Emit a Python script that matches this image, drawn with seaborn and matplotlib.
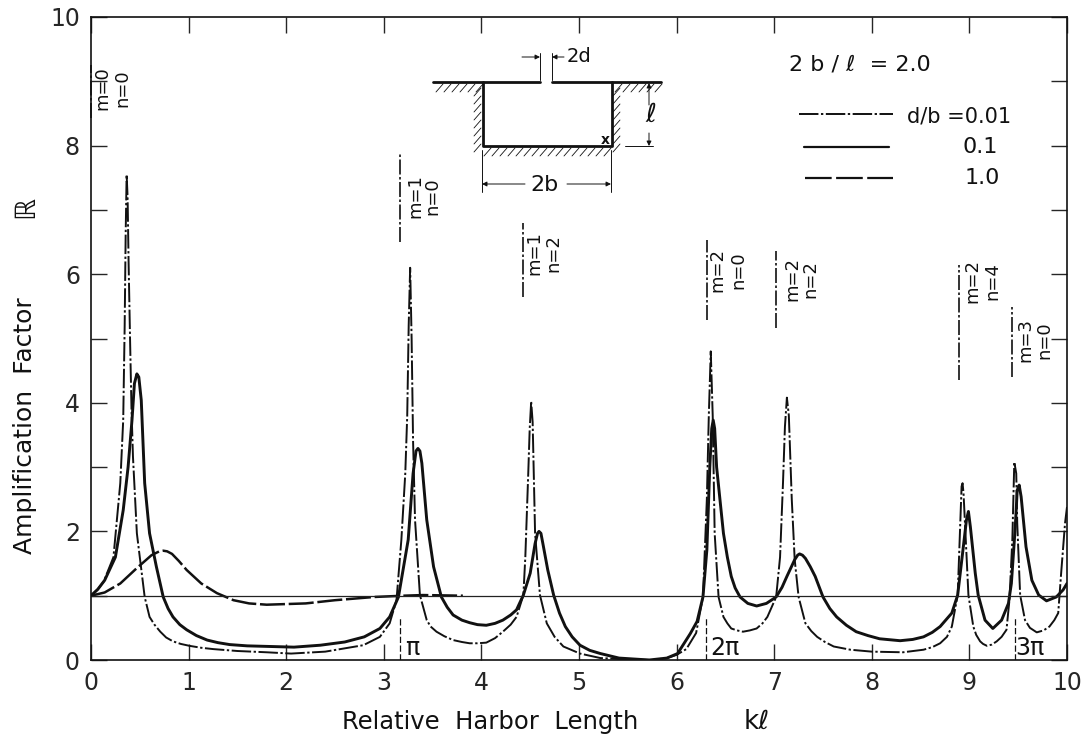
import matplotlib
matplotlib.use("Agg")
import matplotlib.pyplot as plt
from matplotlib.lines import Line2D
from matplotlib.patches import FancyArrowPatch
from matplotlib.transforms import Affine2D
import seaborn as sns

W, H = 1088, 742

x_001 = [0, .07, .13, .23, .3, .33, .345, .355, .365, .375, .385, .4, .415, .43, .47, .55, .6, .65, .71, .77, .84, .92,
         1.01, 1.13, 1.25, 1.5, 1.8,
         2.05, 2.4, 2.79, 2.96, 3.06, 3.13, 3.18, 3.22, 3.24, 3.255, 3.27, 3.285, 3.3, 3.32, 3.37, 3.44, 3.48, 3.54,
         3.62, 3.71, 3.8, 3.88, 3.96, 4.05, 4.14, 4.22, 4.3, 4.36, 4.43, 4.45, 4.48, 4.495, 4.51, 4.525, 4.535, 4.55,
         4.6, 4.67, 4.75, 4.84, 5.01, 5.22, 5.5,
         5.75, 5.9, 6.0, 6.1, 6.2, 6.27, 6.31, 6.33, 6.35, 6.37, 6.39, 6.43, 6.48, 6.52, 6.56, 6.62, 6.68, 6.75, 6.82,
         6.88, 6.93, 7.02, 7.06,
         7.09, 7.11, 7.13, 7.15, 7.18, 7.21, 7.25, 7.32, 7.38, 7.44, 7.52, 7.61, 7.78, 8.0, 8.32, 8.53, 8.62, 8.7,
         8.77, 8.82, 8.88, 8.9, 8.92,
         8.93, 8.94, 8.97, 8.99, 9.04, 9.07, 9.11, 9.14, 9.18, 9.23, 9.28, 9.33, 9.38, 9.41, 9.44, 9.46, 9.48, 9.49,
         9.52, 9.57, 9.62, 9.69, 9.76, 9.82, 9.87,
         9.91, 9.94, 9.98, 10]
y_001 = [1, 1.1, 1.22, 1.6, 2.75, 3.73, 5.2, 6.6, 7.55, 7.2, 6.2, 5.0, 3.9, 3.16, 1.97, .98, .67, .55, .44, .35, .29,
         .25, .22, .19, .17, .14, .12,
         .1, .13, .23, .36, .57, .93, 1.87, 2.9, 3.8, 5.2, 6.1, 5.0, 3.4, 2.18, 1.01, .62, .52, .44,
         .37, .31, .28, .26, .26, .27, .34, .44, .55, .67, 1.01, 1.6, 2.9, 3.6, 4.02, 3.7, 3.0, 1.97,
         1.01, .57, .36, .21, .1, .03, .01,
         0, .03, .08, .17, .42, .98, 2.5, 3.8, 4.8, 3.8, 1.97, .98, .67, .57, .49, .46, .44, .46, .49,
         .57, .67, .98, 1.6,
         2.75, 3.63, 4.08, 3.8, 2.5, 1.56, .98, .57, .45, .36, .28, .21, .16, .13, .12, .16, .2, .26,
         .36, .52, 1.01, 1.87, 2.7,
         2.75, 2.59, 1.66, 1.01, .52, .39, .29, .25, .22, .24, .29, .36, .47, .93, 1.87, 3.08, 2.9, 2.13,
         1.01, .62, .5, .43, .46, .52, .62,
         .73, 1.35, 2.13, 2.38]

x_01 = [0, .07, .14, .25, .33, .38, .42, .445, .47, .49, .515, .55, .6, .67, .74, .79, .84, .91, .98, 1.08, 1.19, 1.3,
        1.42, 1.6, 1.83, 2.08, 2.35, 2.6, 2.8, 2.96, 3.06, 3.15, 3.25, 3.3, 3.33, 3.35, 3.37, 3.39, 3.44, 3.51, 3.59,
        3.65, 3.71, 3.8, 3.88, 3.96, 4.05, 4.14, 4.22, 4.3,
        4.36, 4.43, 4.5, 4.55, 4.575, 4.59, 4.61, 4.63, 4.68, 4.74, 4.8, 4.86, 4.93, 5.01, 5.11, 5.22, 5.41, 5.72, 5.9,
        6.01, 6.14, 6.21, 6.27,
        6.31, 6.34, 6.36, 6.375, 6.39, 6.41, 6.48, 6.52, 6.56, 6.6, 6.65, 6.73, 6.82, 6.92, 7.02, 7.08, 7.13, 7.21,
        7.24, 7.26, 7.29, 7.32, 7.37, 7.42, 7.5, 7.57, 7.64, 7.74, 7.84, 7.96, 8.08, 8.29, 8.42, 8.53, 8.62, 8.7,
        8.82, 8.88, 8.93, 8.97, 8.99, 9.01, 9.06, 9.09, 9.16, 9.24,
        9.33, 9.4, 9.43, 9.47, 9.49, 9.51, 9.53, 9.58, 9.64, 9.71, 9.79, 9.89, 9.96, 10]
y_01 = [1, 1.1, 1.24, 1.6, 2.33, 3.0, 3.73, 4.3, 4.45, 4.4, 4.04, 2.75, 1.97, 1.45, .98, .8, .67, .55, .47, .38, .31,
        .27, .24, .22, .21, .2, .23, .28, .36, .49, .67, .98, 1.87, 2.9, 3.25, 3.29, 3.25, 3.06, 2.18, 1.45, .98,
        .82, .7, .62, .58, .55, .54, .57, .62, .7,
        .78, 1.01, 1.35, 1.81, 1.97, 2.0, 1.97, 1.81, 1.4, 1.01, .73, .52, .36, .23, .15, .1, .03, 0, .03,
        .1, .41, .6, .98,
        1.71, 3.0, 3.6, 3.73, 3.6, 3.0, 1.97, 1.6, 1.3, 1.12, .98, .88, .84, .88, .98, 1.13, 1.3, 1.56,
        1.63, 1.65, 1.63, 1.58, 1.45, 1.3, .98, .8, .67, .54, .44, .38, .33, .3, .32, .36, .43, .52,
        .73, 1.01, 1.66, 2.18, 2.31, 2.07, 1.35, 1.01, .62, .49,
        .62, .88, 1.19, 2.07, 2.64, 2.72, 2.54, 1.76, 1.24, 1.01, .92, .98, 1.09, 1.19]

x_10 = [0, .14, .3, .47, .62, .7, .74, .78, .83, .9, .98, 1.13, 1.29, 1.46, 1.62, 1.8, 2.2, 2.5, 2.9, 3.2, 3.4, 3.81]
y_10 = [1, 1.05, 1.19, 1.43, 1.63, 1.69, 1.7, 1.69, 1.65, 1.54, 1.4, 1.19, 1.04, .93, .88, .86, .88, .93, .98, 1.0,
        1.01, 1.0]

x_ticks = list(range(11))
y_ticks = list(range(11))
y_labels = ["0", "", "2", "", "4", "", "6", "", "8", "", "10"]

mode_x = [0.0, 3.17, 4.43, 6.31, 7.02, 8.89, 9.44]
mode_top = [9.25, 7.88, 6.8, 6.53, 6.36, 6.14, 5.49]
mode_bottom = [8.43, 6.5, 5.65, 5.29, 5.16, 4.35, 4.4]
mode_m = ["m=0", "m=1", "m=1", "m=2", "m=2", "m=2", "m=3"]
mode_n = ["n=0", "n=0", "n=2", "n=0", "n=2", "n=4", "n=0"]
mode_m_px = [102, 415, 534, 717, 792, 972, 1025]
mode_n_px = [122, 432, 553, 738, 810, 992, 1044]
mode_text_py = [88, 196, 253, 270, 279, 281, 340]

pi_x = [3.165, 6.3, 9.47]
pi_labels = ["\u03c0", "2\u03c0", "3\u03c0"]
pi_label_px = [412, 725, 1030]

sns.set_style("ticks")
plt.rcParams["font.family"] = ["DejaVu Sans"]
plt.rcParams["text.color"] = "#111111"

fig = plt.figure(figsize=(W / 100, H / 100), dpi=100)
ax = fig.add_axes([91 / W, 1 - 660 / H, (1067 - 91) / W, (660 - 17) / H])

dashdot = (0, (10, 1.3, 1.2, 1.3))
sns.lineplot(x=x_001, y=y_001, ax=ax, color="#111111", lw=1.4, linestyle=dashdot, estimator=None, sort=False)
sns.lineplot(x=x_01, y=y_01, ax=ax, color="#111111", lw=2.1, estimator=None, sort=False, solid_joinstyle="round")
sns.lineplot(x=x_10, y=y_10, ax=ax, color="#111111", lw=1.8, linestyle=(0, (10, 1.5)), estimator=None, sort=False)
ax.axhline(1, color="#222222", lw=0.9)

ax.set_xlim(0, 10)
ax.set_ylim(0, 10)
ax.set_xticks(x_ticks)
ax.set_yticks(y_ticks)
ax.set_yticklabels(y_labels)
ax.tick_params(direction="in", length=11.5, width=1, top=True, right=True, labelsize=17)
ax.tick_params(axis="x", pad=8)
ax.tick_params(axis="y", pad=8)
for s in ax.spines.values():
    s.set_linewidth(1.2)
    s.set_color("#111111")

# everything below is placed in reference pixels
pix = Affine2D().scale(1 / W, -1 / H).translate(0, 1) + fig.transFigure


def seg(xs, ys, lw=1.0, **kw):
    fig.add_artist(Line2D(xs, ys, transform=pix, color="#111111", lw=lw, **kw))


def label(x, y, s, size=14, **kw):
    fig.text(x, y, s, transform=pix, fontsize=size, ha="center", va="center", **kw)


label(490, 722, "Relative  Harbor  Length", size=17.5)
label(757, 722, "k\u2113", size=19)
label(25, 426, "Amplification  Factor", size=18, rotation=90)
label(25, 207, "\u211d", size=20, rotation=90)

# mode markers
for i, mx in enumerate(mode_x):
    ax.plot([mx, mx], [mode_bottom[i], mode_top[i]], color="#111111", lw=1.2, linestyle=(0, (9, 1.5, 1.5, 1.5)),
            clip_on=False)
    label(mode_m_px[i], mode_text_py[i], mode_m[i], size=13, rotation=90)
    label(mode_n_px[i], mode_text_py[i], mode_n[i], size=13, rotation=90)

# pi markers
for mx, s, lx in zip(pi_x, pi_labels, pi_label_px):
    ax.plot([mx, mx], [0, 0.65], color="#111111", lw=0.9, linestyle=(0, (5, 2)))
    label(lx, 648, s, size=17)

# harbor sketch
seg([433, 540], [82, 82], lw=2)
seg([552, 661], [82, 82], lw=2)
seg([483, 483, 612, 612], [82, 146, 146, 82], lw=2)
for hx in range(436, 483, 8):
    seg([hx, hx + 7], [92, 84], lw=0.6)
for hx in range(615, 660, 8):
    seg([hx, hx + 7], [92, 84], lw=0.6)
for hx in range(484, 612, 8):
    seg([hx, hx + 7], [156, 148], lw=0.6)
for hy in range(88, 150, 8):
    seg([474, 481], [hy + 8, hy], lw=0.6)
    seg([613, 620], [hy + 8, hy], lw=0.6)
seg([540, 540], [53, 80], lw=0.7)
seg([552, 552], [53, 80], lw=0.7)
seg([482, 482], [150, 192], lw=0.7)
seg([611, 611], [150, 192], lw=0.7)
seg([625, 653], [146, 146], lw=0.7)
for (x0, y0, x1, y1) in [(522, 57, 540, 57), (564, 57, 552, 57), (525, 184, 482, 184), (567, 184, 611, 184),
                         (649, 105, 649, 83), (649, 133, 649, 146)]:
    fig.add_artist(FancyArrowPatch((x0, y0), (x1, y1), transform=pix, arrowstyle="-|>", mutation_scale=7, lw=0.7,
                                   color="#111111", shrinkA=0, shrinkB=0))
label(579, 56, "2d", size=14)
label(545, 185, "2b", size=16)
label(651, 115, "\u2113", size=19, style="italic")
label(605, 140, "x", size=10, weight="bold")

# legend and ratio
label(860, 65, "2 b / \u2113  = 2.0", size=16)
seg([799, 893], [114, 114], lw=1.4, linestyle=dashdot)
seg([804, 889], [147, 147], lw=1.6)
seg([805, 893], [178, 178], lw=1.6, linestyle=(0, (12, 2)))
label(959, 116, "d/b =0.01", size=15)
label(980, 147, "0.1", size=16)
label(982, 178, "1.0", size=16)

fig.savefig("out.png", dpi=100)
